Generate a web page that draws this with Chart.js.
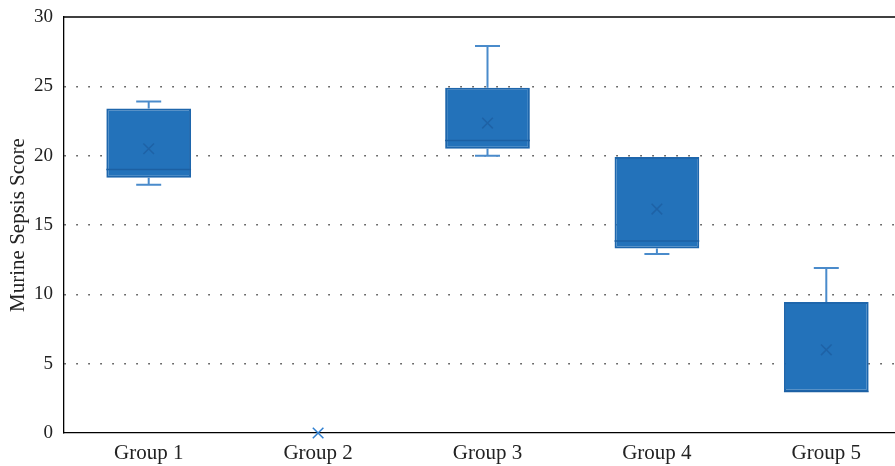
<!DOCTYPE html>
<html>
<head>
<meta charset="utf-8">
<script src="https://cdn.jsdelivr.net/npm/chart.js@4"></script>
<style>
html,body{margin:0;padding:0;background:#fff;overflow:hidden;}
#wrap{width:913px;height:466px;position:relative;}
</style>
</head>
<body>
<div id="wrap"><canvas id="c"></canvas></div>
<script>
const categories = ['Group 1', 'Group 2', 'Group 3', 'Group 4', 'Group 5'];
const minVals    = [17.9, 0, 20.0, 12.9, 3.0];
const q1Vals     = [18.4, 0, 20.5, 13.3, 3.0];
const medianVals = [19.0, 0, 21.1, 13.85, 3.0];
const q3Vals     = [23.4, 0, 24.9, 19.9, 9.45];
const maxVals    = [23.9, 0, 27.9, 19.9, 11.9];
const meanVals   = [20.5, 0, 22.35, 16.15, 6.0];
const yTicks     = [0, 5, 10, 15, 20, 25, 30];

const boxData = categories.map((c, i) => (q3Vals[i] > q1Vals[i] ? [q1Vals[i], q3Vals[i]] : null));

const boxPlugin = {
  id: 'boxExtras',
  beforeDatasetsDraw(chart) {
    const {ctx, scales: {x, y}} = chart;
    ctx.save();
    ctx.strokeStyle = '#4a8bcb';
    ctx.lineWidth = 2;
    const cap = 12.5;
    categories.forEach((c, i) => {
      const px = x.getPixelForValue(i);
      if (maxVals[i] > q3Vals[i]) {
        const a = y.getPixelForValue(q3Vals[i]), b = y.getPixelForValue(maxVals[i]);
        ctx.beginPath(); ctx.moveTo(px, a); ctx.lineTo(px, b);
        ctx.moveTo(px - cap, b); ctx.lineTo(px + cap, b); ctx.stroke();
      }
      if (minVals[i] < q1Vals[i]) {
        const a = y.getPixelForValue(q1Vals[i]), b = y.getPixelForValue(minVals[i]);
        ctx.beginPath(); ctx.moveTo(px, a); ctx.lineTo(px, b);
        ctx.moveTo(px - cap, b); ctx.lineTo(px + cap, b); ctx.stroke();
      }
    });
    ctx.restore();
  },
  afterDatasetDraw(chart, args) {
    if (args.index !== 1) return;
    const {ctx, scales: {y}} = chart;
    const meta = chart.getDatasetMeta(1);
    ctx.save();
    ctx.strokeStyle = '#1c60a3';
    ctx.lineWidth = 1.5;
    categories.forEach((c, i) => {
      const el = meta.data[i];
      if (!boxData[i] || !el) return;
      const py = y.getPixelForValue(medianVals[i]);
      ctx.beginPath(); ctx.moveTo(el.x - el.width / 2, py); ctx.lineTo(el.x + el.width / 2, py); ctx.stroke();
    });
    ctx.restore();
  },
  afterDraw(chart) {
    const {ctx, chartArea} = chart;
    ctx.save();
    ctx.strokeStyle = '#000';
    ctx.lineWidth = 1.3;
    ctx.beginPath(); ctx.moveTo(chartArea.left, chartArea.top); ctx.lineTo(chartArea.right, chartArea.top); ctx.stroke();
    ctx.restore();
  }
};

new Chart(document.getElementById('c'), {
  data: {
    labels: categories,
    datasets: [
      {
        type: 'line',
        label: 'Mean',
        data: meanVals,
        showLine: false,
        pointStyle: 'crossRot',
        pointRadius: 7.5,
        pointBorderWidth: 1.5,
        pointBorderColor: ['#1e62a6', '#2f7fd0', '#1e62a6', '#1e62a6', '#1e62a6'],
        order: 0,
        clip: false
      },
      {
        type: 'bar',
        label: 'Box',
        data: boxData,
        backgroundColor: '#2372ba',
        borderColor: '#1e66ac',
        borderWidth: 2,
        borderSkipped: false,
        categoryPercentage: 1.0,
        barPercentage: 0.5,
        order: 1
      }
    ]
  },
  options: {
    responsive: true,
    maintainAspectRatio: false,
    animation: false,
    layout: {autoPadding: false, padding: {top: 17, left: 6, right: 2, bottom: 0}},
    plugins: {legend: {display: false}, tooltip: {enabled: false}},
    scales: {
      x: {
        type: 'category',
        offset: true,
        afterFit(scale) { scale.height = 33; scale.paddingLeft = 0; scale.paddingRight = 0; },
        grid: {display: false, drawTicks: false},
        border: {display: true, color: '#000', width: 1.3},
        ticks: {color: '#222', padding: 8, font: {family: 'Liberation Serif', size: 21}}
      },
      y: {
        min: 0, max: 30,
        afterFit(scale) { scale.width = 58; scale.paddingTop = 0; scale.paddingBottom = 0; },
        afterBuildTicks(scale) { scale.ticks = yTicks.map(v => ({value: v})); },
        grid: {
          drawTicks: false,
          color: (ctx) => (ctx.tick && (ctx.tick.value === 0 || ctx.tick.value === 30)) ? 'rgba(0,0,0,0)' : '#444',
          lineWidth: 1.5
        },
        border: {display: true, color: '#000', width: 1.3, dash: [1.5, 10.5]},
        ticks: {color: '#222', padding: 11, font: {family: 'Liberation Serif', size: 19}},
        title: {display: true, text: 'Murine Sepsis Score', color: '#222', padding: {top: 0, bottom: 0}, font: {family: 'Liberation Serif', size: 21}}
      }
    }
  },
  plugins: [boxPlugin]
});
</script>
</body>
</html>
